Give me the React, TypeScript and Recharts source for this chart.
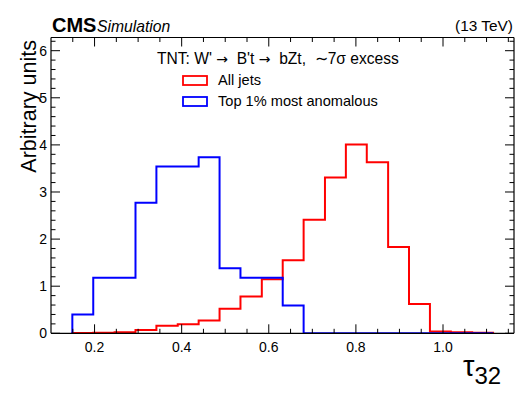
import React from "react";
import { ComposedChart, Line, XAxis, YAxis, Legend } from "recharts";

// bin edges of the tau32 histogram (20 bins)
const binEdges = [
  0.149, 0.197, 0.246, 0.294, 0.342, 0.391, 0.439, 0.487, 0.535, 0.584, 0.632,
  0.68, 0.729, 0.777, 0.825, 0.874, 0.922, 0.97, 1.018, 1.067, 1.115,
];
const allJets = [
  0.005, 0.01, 0.02, 0.07, 0.16, 0.19, 0.27, 0.52, 0.78, 1.15, 1.55, 2.41, 3.31,
  4.01, 3.63, 1.83, 0.62, 0.04, 0.02, 0.01,
];
const topAnomalous = [
  0.4, 1.18, 1.18, 2.77, 3.54, 3.54, 3.74, 1.38, 1.18, 1.18, 0.59, 0, 0, 0, 0,
  0, 0, 0, 0, 0,
];

const xLabelTicks = [0.2, 0.4, 0.6, 0.8, 1.0];
const xTickLabels = ["0.2", "0.4", "0.6", "0.8", "1.0"];
const yLabelTicks = [0, 1, 2, 3, 4, 5, 6];
const yTickLabels = ["0", "1", "2", "3", "4", "5", "6"];

const X_DOMAIN: [number, number] = [0.1, 1.163];
const Y_DOMAIN: [number, number] = [0, 6.28];

// minor tick grid (ROOT style: 0.05 on x, 0.2 on y)
const xMinorTicks = Array.from({ length: 21 }, (_, i) => +(0.15 + i * 0.05).toFixed(2));
const yMinorTicks = Array.from({ length: 32 }, (_, i) => +(i * 0.2).toFixed(1));

const FONT = "'Liberation Sans', Arial, Helvetica, sans-serif";
const ARROW_FONT = "'DejaVu Sans', sans-serif";

const data = [
  { x: binEdges[0], allJets: 0, top: 0 },
  ...binEdges.slice(0, -1).map((x, i) => ({ x, allJets: allJets[i], top: topAnomalous[i] })),
  { x: binEdges[binEdges.length - 1], allJets: 0, top: 0 },
];

const majorIdx = (list: number[], v: number) => list.findIndex((m) => Math.abs(m - v) < 1e-6);

function BottomTick(props: any) {
  const { x, y, payload } = props;
  const i = majorIdx(xLabelTicks, payload.value);
  return (
    <g>
      <line x1={x} x2={x} y1={y} y2={y - (i >= 0 ? 9 : 4.5)} stroke="#000" strokeWidth={1} />
      {i >= 0 && (
        <text x={x} y={y + 19} textAnchor="middle" fontSize={14} fontFamily={FONT} fill="#000">
          {xTickLabels[i]}
        </text>
      )}
    </g>
  );
}

function TopTick(props: any) {
  const { x, y, payload } = props;
  const i = majorIdx(xLabelTicks, payload.value);
  return <line x1={x} x2={x} y1={y} y2={y + (i >= 0 ? 9 : 4.5)} stroke="#000" strokeWidth={1} />;
}

function LeftTick(props: any) {
  const { x, y, payload } = props;
  const i = majorIdx(yLabelTicks, payload.value);
  return (
    <g>
      <line x1={x} x2={x + (i >= 0 ? 9 : 4.5)} y1={y} y2={y} stroke="#000" strokeWidth={1} />
      {i >= 0 && (
        <text x={x - 4} y={y + 5} textAnchor="end" fontSize={14} fontFamily={FONT} fill="#000">
          {yTickLabels[i]}
        </text>
      )}
    </g>
  );
}

function RightTick(props: any) {
  const { x, y, payload } = props;
  const i = majorIdx(yLabelTicks, payload.value);
  return <line x1={x} x2={x - (i >= 0 ? 9 : 4.5)} y1={y} y2={y} stroke="#000" strokeWidth={1} />;
}

function LegendBox(props: any) {
  const items = (props.payload || []).slice().sort((a: any, b: any) =>
    a.value === "All jets" ? -1 : b.value === "All jets" ? 1 : 0
  );
  return (
    <svg width={280} height={66} style={{ overflow: "visible" }}>
      <text x={17} y={19} fontSize={15.6} fontFamily={FONT} fill="#000" style={{ whiteSpace: "pre" }}>
        {"TNT: W' "}
        <tspan fontFamily={ARROW_FONT} fontSize={14}>{"\u2192"}</tspan>
        {"  B't "}
        <tspan fontFamily={ARROW_FONT} fontSize={14}>{"\u2192"}</tspan>
        {"  bZt,  \u223C7\u03C3 excess"}
      </text>
      {items.map((it: any, k: number) => (
        <g key={it.value}>
          <rect x={43} y={31 + k * 21} width={24} height={9} fill="none" stroke={it.color} strokeWidth={1.8} />
          <text x={78} y={40 + k * 21} fontSize={14.6} fontFamily={FONT} fill="#000">
            {it.value}
          </text>
        </g>
      ))}
    </svg>
  );
}

export default function App() {
  return (
    <div style={{ position: "absolute", left: 0, top: 0, width: 532, height: 399, background: "#fff" }}>
      <ComposedChart
        width={532}
        height={399}
        data={data}
        margin={{ top: 36.5, right: 17, bottom: 64.7, left: 50 }}
      >
        <XAxis
          dataKey="x"
          type="number"
          domain={X_DOMAIN}
          allowDataOverflow
          ticks={xMinorTicks}
          interval={0}
          height={1}
          tickSize={0}
          tickMargin={0}
          tick={<BottomTick />}
          axisLine={{ stroke: "#000", strokeWidth: 1.2 }}
        />
        <XAxis
          xAxisId="top"
          orientation="top"
          dataKey="x"
          type="number"
          domain={X_DOMAIN}
          allowDataOverflow
          ticks={xMinorTicks}
          interval={0}
          height={1}
          tickSize={0}
          tickMargin={0}
          tick={<TopTick />}
          axisLine={{ stroke: "#000", strokeWidth: 1.2 }}
        />
        <YAxis
          type="number"
          domain={Y_DOMAIN}
          allowDataOverflow
          ticks={yMinorTicks}
          interval={0}
          width={1}
          tickSize={0}
          tickMargin={0}
          tick={<LeftTick />}
          axisLine={{ stroke: "#000", strokeWidth: 1.2 }}
        />
        <YAxis
          yAxisId="right"
          orientation="right"
          type="number"
          domain={Y_DOMAIN}
          allowDataOverflow
          ticks={yMinorTicks}
          interval={0}
          width={1}
          tickSize={0}
          tickMargin={0}
          tick={<RightTick />}
          axisLine={{ stroke: "#000", strokeWidth: 1.2 }}
        />
        <Legend
          layout="vertical"
          align="center"
          verticalAlign="middle"
          content={<LegendBox />}
          wrapperStyle={{ left: 140, top: 45, width: 280, height: 66 }}
        />
        <Line
          name="All jets"
          dataKey="allJets"
          type="stepAfter"
          stroke="#ff0000"
          strokeWidth={2}
          dot={false}
          isAnimationActive={false}
        />
        <Line
          name="Top 1% most anomalous"
          dataKey="top"
          type="stepAfter"
          stroke="#0000ff"
          strokeWidth={2}
          dot={false}
          isAnimationActive={false}
        />
      </ComposedChart>
      <svg
        width={532}
        height={399}
        style={{ position: "absolute", left: 0, top: 0, pointerEvents: "none" }}
      >
        <text x={52} y={32} fontSize={20} fontWeight="bold" fontFamily={FONT} fill="#000">
          CMS
        </text>
        <text x={97} y={32} fontSize={15.7} fontStyle="italic" fontFamily={FONT} fill="#000">
          Simulation
        </text>
        <text x={513} y={31} fontSize={15.4} textAnchor="end" fontFamily={FONT} fill="#000">
          (13 TeV)
        </text>
        <text
          transform="translate(36,40) rotate(-90)"
          textAnchor="end"
          fontSize={21.5}
          fontFamily={FONT}
          fill="#000"
        >
          Arbitrary units
        </text>
        <text x={463} y={376} fontSize={29} fontFamily={FONT} fill="#000">
          {"\u03C4"}
          <tspan fontSize={24} dy={8}>
            32
          </tspan>
        </text>
      </svg>
    </div>
  );
}
